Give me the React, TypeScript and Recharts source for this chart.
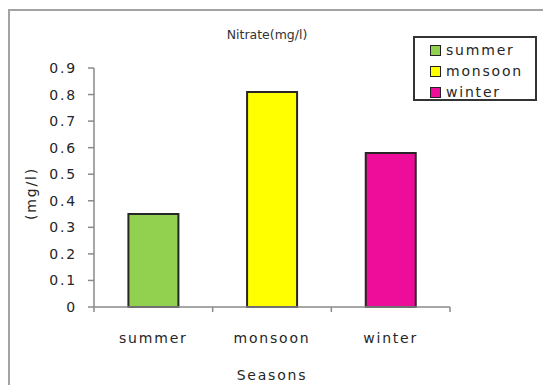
import { BarChart, Bar, Cell, XAxis, YAxis } from 'recharts'

// 계절별 질산염 농도
const seasons = ['summer', 'monsoon', 'winter']
const nitrate = [0.35, 0.81, 0.58]
const barColors = ['#92D050', '#FFFF00', '#EE0C9A']
const yTicks = [0, 0.1, 0.2, 0.3, 0.4, 0.5, 0.6, 0.7, 0.8, 0.9]
const edgeTicks = [0, 1, 2, 3]

const data = seasons.map((s, i) => ({ season: s, value: nitrate[i], idx: i }))

const FONT = '"DejaVu Sans", Verdana, sans-serif'
const AXIS_GREY = '#8a8a8a'
const TEXT = '#262626'

const tickStyle = { fontSize: 14, fill: TEXT, fontFamily: FONT, letterSpacing: 1.8 }

// 범례: 테두리 박스 안에 색상 칸 + 계절명
const SeasonLegend = () => (
  <div style={{
    position: 'absolute', left: 405, top: 28,
    width: 124, height: 65, boxSizing: 'border-box',
    border: '2px solid #333', background: '#fff',
    paddingTop: 2,
  }}>
    {seasons.map((s, i) => (
      <div key={s} style={{ display: 'flex', alignItems: 'center', height: 21, paddingLeft: 15 }}>
        <span style={{
          width: 11, height: 11, boxSizing: 'border-box',
          background: barColors[i], border: '1.5px solid #222', marginRight: 5,
        }} />
        <span style={{ fontFamily: FONT, fontSize: 14, letterSpacing: 1.8, color: TEXT, lineHeight: '21px' }}>{s}</span>
      </div>
    ))}
  </div>
)

export default function App() {
  return (
    <div style={{ position: 'absolute', left: 8, top: 8, width: 535, height: 377, overflow: 'hidden', background: '#fff' }}>
      {/* 바깥 테두리 */}
      <div style={{ position: 'absolute', left: 0, top: 1, width: 600, height: 600, border: '2px solid #a3a3a3', pointerEvents: 'none' }} />

      <div style={{
        position: 'absolute', left: 0, width: 518, top: 19, textAlign: 'center',
        fontFamily: FONT, fontSize: 12.5, color: '#333',
      }}>Nitrate(mg/l)</div>

      <BarChart
        width={535}
        height={377}
        data={data}
        margin={{ top: 60, right: 93, bottom: 0, left: 26 }}
        barCategoryGap="29%"
        style={{ position: 'absolute', left: 0, top: 0 }}
      >
        <XAxis
          xAxisId="cat"
          dataKey="season"
          tickLine={false}
          axisLine={false}
          tick={tickStyle}
          tickMargin={19}
          interval={0}
          height={77}
          label={({ viewBox }: any) => (
            <text
              x={viewBox.x + viewBox.width / 2}
              y={viewBox.y + 67}
              textAnchor="middle"
              dominantBaseline="central"
              style={tickStyle}
            >Seasons</text>
          )}
        />
        {/* 가로축 선 + 카테고리 경계 눈금 (라벨 없음) */}
        <XAxis
          xAxisId="a_edge"
          type="number"
          dataKey="idx"
          domain={[0, 3]}
          ticks={edgeTicks}
          interval={0}
          tickFormatter={() => ''}
          axisLine={{ stroke: AXIS_GREY, strokeWidth: 1.5 }}
          tickLine={{ stroke: AXIS_GREY, strokeWidth: 1.5 }}
          tickSize={5}
          height={1}
        />
        <YAxis
          domain={[0, 0.9]}
          ticks={yTicks}
          interval={0}
          width={60}
          tick={tickStyle}
          tickSize={6}
          tickMargin={11}
          tickLine={{ stroke: AXIS_GREY, strokeWidth: 1.5 }}
          axisLine={{ stroke: AXIS_GREY, strokeWidth: 1.5 }}
          label={({ viewBox }: any) => (
            <text
              x={viewBox.x - 3}
              y={viewBox.y + viewBox.height / 2 + 6}
              textAnchor="middle"
              dominantBaseline="central"
              transform={`rotate(-90, ${viewBox.x - 3}, ${viewBox.y + viewBox.height / 2 + 6})`}
              style={tickStyle}
            >(mg/l)</text>
          )}
        />
        <Bar xAxisId="cat" dataKey="value" stroke="#262626" strokeWidth={2} isAnimationActive={false}>
          {data.map((d, i) => (
            <Cell key={d.season} fill={barColors[i]} />
          ))}
        </Bar>
      </BarChart>

      <SeasonLegend />
    </div>
  )
}
